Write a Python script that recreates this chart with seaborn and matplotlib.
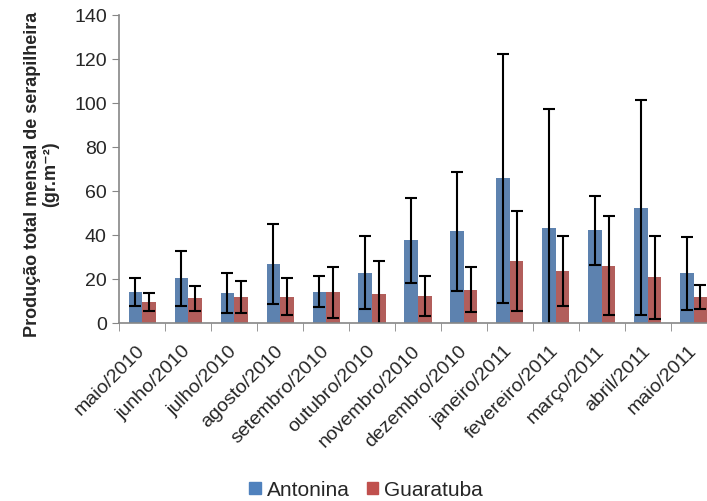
import numpy as np
import pandas as pd
import seaborn as sns
import matplotlib.pyplot as plt

# Monthly litter production
months = ["maio/2010", "junho/2010", "julho/2010", "agosto/2010", "setembro/2010",
          "outubro/2010", "novembro/2010", "dezembro/2010", "janeiro/2011",
          "fevereiro/2011", "março/2011", "abril/2011", "maio/2011"]
antonina = [14.1, 20.3, 13.4, 26.7, 14.1, 22.6, 37.4, 41.5, 65.6, 43.0, 42.0, 52.3, 22.5]
antonina_err = [6.3, 12.5, 9.0, 18.0, 7.0, 16.6, 19.4, 27.0, 56.5, 54.0, 15.7, 49.0, 16.6]
guaratuba = [9.3, 11.1, 11.5, 11.8, 13.8, 13.0, 12.1, 14.9, 27.9, 23.6, 25.9, 20.6, 11.8]
guaratuba_err = [4.2, 5.6, 7.3, 8.3, 11.6, 15.0, 9.2, 10.2, 22.8, 16.0, 22.6, 18.7, 5.5]

sites = ["Antonina", "Guaratuba"]
colors = ["#4F81BD", "#C0504D"]

df = pd.DataFrame({
    "Mes": months * 2,
    "Local": [sites[0]] * len(months) + [sites[1]] * len(months),
    "Valor": antonina + guaratuba,
})

sns.set_style("white")
plt.rcParams["font.family"] = ["Liberation Sans", "DejaVu Sans"]

fig = plt.figure(figsize=(7.07, 5.02), dpi=100)
ax = fig.add_axes([0.1687, 0.3552, 0.845, 0.6135])

sns.barplot(data=df, x="Mes", y="Valor", hue="Local", palette=colors,
            width=0.59, errorbar=None, ax=ax, linewidth=0)

# Error bars on top of each bar
for container, errs in zip(ax.containers, [antonina_err, guaratuba_err]):
    xs = [p.get_x() + p.get_width() / 2 for p in container]
    ys = [p.get_height() for p in container]
    ax.errorbar(xs, ys, yerr=errs, fmt="none", ecolor="black",
                elinewidth=1.5, capsize=4, capthick=1.5)

ax.set_xlim(-0.5, len(months) - 0.5)
ax.set_ylim(0, 140)
ax.set_yticks(range(0, 141, 20))

for s in ["top", "right"]:
    ax.spines[s].set_visible(False)
for s in ["left", "bottom"]:
    ax.spines[s].set_color("#868686")
    ax.spines[s].set_linewidth(1.2)

ax.tick_params(axis="y", direction="out", length=5, color="#868686",
               left=True, labelsize=14, pad=4)
ax.tick_params(axis="x", which="major", length=0, labelsize=14, pad=18)
ax.set_xticks(np.arange(-0.5, len(months), 1), minor=True)
ax.tick_params(axis="x", which="minor", direction="out", length=6,
               color="#868686", bottom=True)
plt.setp(ax.get_xticklabels(), rotation=45, ha="right", va="center",
         rotation_mode="anchor")

ax.set_xlabel("")
ax.set_ylabel("Produção total mensal de serapilheira\n(gr.m⁻²)",
              fontsize=13, fontweight="bold", linespacing=1.1)
ax.yaxis.set_label_coords(-0.1, 0.484)

ax.legend_.remove()
handles = [plt.Rectangle((0, 0), 1, 1, color=c) for c in colors]
fig.legend(handles, sites, loc="center", bbox_to_anchor=(0.518, 0.022),
           ncol=2, frameon=False, fontsize=15, handlelength=0.55,
           handleheight=0.55, handletextpad=0.3, columnspacing=0.8)

fig.savefig("out.png", dpi=100)
